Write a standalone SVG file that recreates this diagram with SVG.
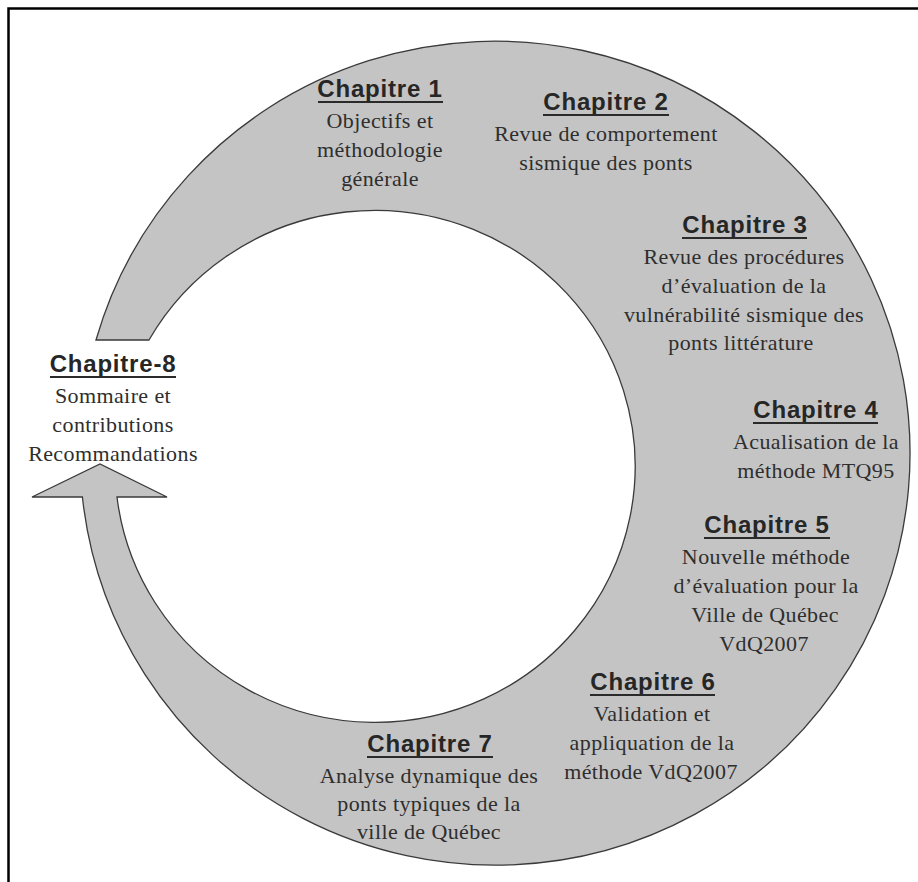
<svg xmlns="http://www.w3.org/2000/svg" width="918" height="882" viewBox="0 0 918 882">
<style>
.bg{fill:#ffffff}
.frame{fill:none;stroke:#000;stroke-width:2.5}
.ring{fill:#c4c4c4;stroke:#3a3a3a;stroke-width:1.3;stroke-linejoin:miter}
.h{font-family:"Liberation Sans",Arial,sans-serif;font-weight:bold;font-size:24px;fill:#262626;text-anchor:middle;letter-spacing:0.8px}
.b{font-family:"Liberation Serif","Times New Roman",serif;font-size:22px;fill:#2e2e2e;text-anchor:middle;letter-spacing:0.4px}
.ul{stroke:#2a2a2a;stroke-width:2}
</style>
<rect class="bg" x="0" y="0" width="918" height="882"/>
<polyline class="frame" points="8.5,882 8.5,8.5 918,8.5"/>
<g id="connectors">
<path id="circular-arrow" class="ring" d="M 96,340 A 415 412 0 1 1 82.4,497 L 32,497 L 100,464 L 167,497 L 117,497 A 260 256 0 1 0 149,340 Z"/>
</g>
<g id="ch1">
<text class="h" x="380" y="97">Chapitre 1</text>
<line class="ul" x1="318" y1="102" x2="443" y2="102"/>
<text class="b"><tspan x="380" y="128">Objectifs et</tspan><tspan x="380" y="157">méthodologie</tspan><tspan x="380" y="186">générale</tspan></text>
</g>
<g id="ch2">
<text class="h" x="606" y="110">Chapitre 2</text>
<line class="ul" x1="543" y1="115" x2="669" y2="115"/>
<text class="b"><tspan x="606" y="141">Revue de comportement</tspan><tspan x="606" y="170">sismique des ponts</tspan></text>
</g>
<g id="ch3">
<text class="h" x="745" y="233">Chapitre 3</text>
<line class="ul" x1="682" y1="238" x2="807" y2="238"/>
<text class="b"><tspan x="744" y="264">Revue des procédures</tspan><tspan x="744" y="293">d’évaluation de la</tspan><tspan x="744" y="322">vulnérabilité sismique des</tspan><tspan x="741" y="350">ponts littérature</tspan></text>
</g>
<g id="ch4">
<text class="h" x="816" y="418">Chapitre 4</text>
<line class="ul" x1="753" y1="423" x2="878" y2="423"/>
<text class="b"><tspan x="816" y="449">Acualisation de la</tspan><tspan x="816" y="478">méthode MTQ95</tspan></text>
</g>
<g id="ch5">
<text class="h" x="767" y="533">Chapitre 5</text>
<line class="ul" x1="704" y1="538" x2="830" y2="538"/>
<text class="b"><tspan x="766" y="564">Nouvelle méthode</tspan><tspan x="766" y="593">d’évaluation pour la</tspan><tspan x="765" y="622">Ville de Québec</tspan><tspan x="764" y="651">VdQ2007</tspan></text>
</g>
<g id="ch6">
<text class="h" x="653" y="690">Chapitre 6</text>
<line class="ul" x1="590" y1="695" x2="715" y2="695"/>
<text class="b"><tspan x="652" y="721">Validation et</tspan><tspan x="652" y="750">appliquation de la</tspan><tspan x="651" y="779">méthode VdQ2007</tspan></text>
</g>
<g id="ch7">
<text class="h" x="430" y="752">Chapitre 7</text>
<line class="ul" x1="367" y1="757" x2="493" y2="757"/>
<text class="b"><tspan x="429" y="783">Analyse dynamique des</tspan><tspan x="429" y="811">ponts typiques de la</tspan><tspan x="429" y="839">ville de Québec</tspan></text>
</g>
<g id="ch8">
<text class="h" x="113" y="372">Chapitre-8</text>
<line class="ul" x1="50" y1="377" x2="176" y2="377"/>
<text class="b"><tspan x="113" y="403">Sommaire et</tspan><tspan x="113" y="432">contributions</tspan><tspan x="113" y="461">Recommandations</tspan></text>
</g>
</svg>
